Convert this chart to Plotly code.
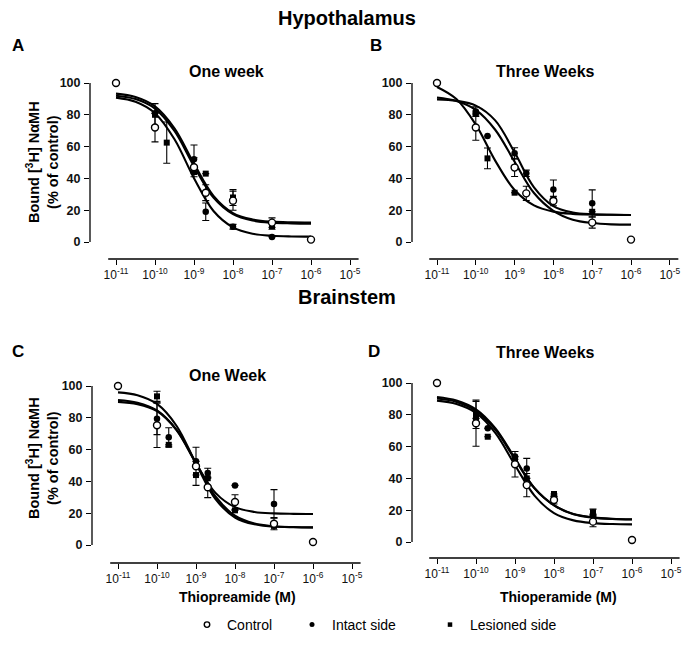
import plotly.graph_objects as go

# ---------------- data ----------------
conc = [1e-11, 1e-10, 2e-10, 1e-9, 2e-9, 1e-8, 1e-7, 1e-6]
fit_conc = [1e-11, 3.16e-11, 1e-10, 3.16e-10, 1e-9, 3.16e-9, 1e-8, 3.16e-8, 1e-7, 3.16e-7, 1e-6]

x_tickvals = [1e-11, 1e-10, 1e-9, 1e-8, 1e-7, 1e-6, 1e-5]
x_ticktext = ["10<sup>-11</sup>", "10<sup>-10</sup>", "10<sup>-9</sup>", "10<sup>-8</sup>",
              "10<sup>-7</sup>", "10<sup>-6</sup>", "10<sup>-5</sup>"]
y_tickvals = [0, 20, 40, 60, 80, 100]

# Panel A  (Hypothalamus, one week)
a_control = [100, 72, None, 47, 31, 26, 12.2, 1.5]
a_intact = [None, 81, None, 52, 19, 9.6, 3.2, None]
a_lesioned = [None, 80, 62.5, 44, 43, 28, 10, None]
a_control_err = [None, 9, None, 6, 5, 6, 3, None]
a_intact_err = [None, None, None, 9, 5.5, 1.5, None, None]
a_lesioned_err = [None, 7, 13, None, None, 5, 2, None]
a_control_fit = [92.0, 89.9, 83.9, 69.8, 47.6, 27.9, 17.5, 13.5, 12.1, 11.7, 11.55]
a_intact_fit = [90.8, 88.2, 81.0, 64.6, 40.1, 19.5, 9.2, 5.2, 3.9, 3.5, 3.4]
a_lesioned_fit = [93.3, 91.2, 85.3, 71.5, 49.3, 29.0, 18.2, 14.2, 12.8, 12.4, 12.3]

# Panel B  (Hypothalamus, three weeks)
b_control = [100, 72, None, 46.8, 30.6, 25.8, 12.2, 1.5]
b_intact = [None, 82, 66.7, 55.8, 43.2, 33, 24.3, None]
b_lesioned = [None, 81, 52.6, 31, None, 27, 19, None]
b_control_err = [None, 8, None, 5.6, 4.5, 3, 3.5, None]
b_intact_err = [None, 3, None, 3.5, 2, 6, 8.5, None]
b_lesioned_err = [None, None, 6.5, None, None, None, None, None]
b_control_fit = [90.9, 88.7, 83.1, 70.6, 50.5, 30.8, 19.6, 14.0, 11.9, 11.1, 10.9]
b_intact_fit = [89.7, 88.8, 85.8, 76.5, 56.4, 34.4, 22.6, 18.6, 17.4, 17.1, 17.0]
b_lesioned_fit = [97.5, 89.9, 73.8, 51.2, 32.7, 23.0, 19.1, 17.7, 17.3, 17.1, 17.0]

# Panel C  (Brainstem, one week)
c_control = [100, 75.3, None, 49.5, 36.3, 27, 13.4, 1.9]
c_intact = [None, 79.4, 67.7, 52.6, 45.3, 37.5, 25.8, None]
c_lesioned = [None, 93.5, 63, 44, 42, 21.8, 12, None]
c_control_err = [None, 14, None, 12, 6.5, 4.6, 3.8, None]
c_intact_err = [None, 10, 6, None, 3, None, 9, None]
c_lesioned_err = [None, 3.2, None, None, None, None, None, None]
c_control_fit = [91.2, 89.5, 84.6, 72.5, 51.5, 30.5, 18.4, 13.5, 11.8, 11.3, 11.1]
c_intact_fit = [90.0, 88.6, 84.2, 72.3, 51.4, 32.8, 23.8, 20.8, 19.9, 19.6, 19.5]
c_lesioned_fit = [96.0, 94.2, 88.7, 75.0, 51.2, 28.9, 17.3, 13.0, 11.6, 11.2, 11.05]

# Panel D  (Brainstem, three weeks)
d_control = [100, 74.7, None, 48.9, 35.8, 26.4, 12.8, 1.3]
d_intact = [None, 77.7, 71.5, 53.7, 46.3, 28.5, 17.5, None]
d_lesioned = [None, 79.9, 66.2, 52, 40, 30.2, 18.7, None]
d_control_err = [None, 14.5, None, 8, 7.3, 2.5, 3.2, None]
d_intact_err = [None, None, None, None, 6.3, None, None, None]
d_lesioned_err = [None, 8.5, None, None, None, None, 2, None]
d_control_fit = [88.9, 86.8, 81.2, 68.5, 48.3, 29.2, 18.2, 13.6, 11.9, 11.3, 11.1]
d_intact_fit = [90.2, 88.1, 82.5, 70.6, 52.0, 33.7, 23.0, 17.4, 15.3, 14.45, 14.15]
d_lesioned_fit = [91.2, 89.0, 83.4, 71.4, 52.6, 34.0, 23.2, 17.6, 15.5, 14.6, 14.3]

group_names = ["Control", "Intact side", "Lesioned side"]

# ---------------- layout helpers ----------------
# the page body adds an 8px margin, so the figure is drawn 8px smaller and
# every target pixel position (measured on the 694x645 reference) is shifted by 8
OFF = 8
W, H = 694 - OFF, 645 - OFF
def px(x):
    return (x - OFF) / W
def py(y):
    return 1 - (y - OFF) / H

FONT = "Liberation Sans, Arial, Helvetica, sans-serif"

marker_styles = {
    "Control": dict(symbol="circle", size=7, color="white", line=dict(color="black", width=1.4)),
    "Intact side": dict(symbol="circle", size=6.5, color="black", line=dict(color="black", width=0)),
    "Lesioned side": dict(symbol="square", size=6, color="black", line=dict(color="black", width=0)),
}

panels = [
    dict(s="", data=[a_control, a_intact, a_lesioned], err=[a_control_err, a_intact_err, a_lesioned_err],
         fit=[a_control_fit, a_intact_fit, a_lesioned_fit],
         yax=90, x11=116, dec=39.0, y0=242, y100=83, xline=259),
    dict(s="2", data=[b_control, b_intact, b_lesioned], err=[b_control_err, b_intact_err, b_lesioned_err],
         fit=[b_control_fit, b_intact_fit, b_lesioned_fit],
         yax=412, x11=437, dec=38.8, y0=242, y100=83, xline=259),
    dict(s="3", data=[c_control, c_intact, c_lesioned], err=[c_control_err, c_intact_err, c_lesioned_err],
         fit=[c_control_fit, c_intact_fit, c_lesioned_fit],
         yax=92, x11=118, dec=39.0, y0=545, y100=386, xline=563),
    dict(s="4", data=[d_control, d_intact, d_lesioned], err=[d_control_err, d_intact_err, d_lesioned_err],
         fit=[d_control_fit, d_intact_fit, d_lesioned_fit],
         yax=412, x11=437, dec=39.0, y0=542, y100=383, xline=558),
]

fig = go.Figure()
layout = dict(width=W, height=H, margin=dict(l=0, r=0, t=0, b=0),
              paper_bgcolor="white", plot_bgcolor="white",
              font=dict(family=FONT, color="black"))
shapes = []

for p in panels:
    s = p["s"]
    xa, ya = "x" + s, "y" + s
    for fit in p["fit"]:
        fig.add_trace(go.Scatter(x=fit_conc, y=fit, mode="lines", xaxis=xa, yaxis=ya,
                                 line=dict(color="black", width=2.1, shape="spline", smoothing=1.0),
                                 hoverinfo="skip", showlegend=False))
    for idx in [2, 1, 0]:
        name = group_names[idx]
        fig.add_trace(go.Scatter(x=conc, y=p["data"][idx], mode="markers", xaxis=xa, yaxis=ya,
                                 name=name, marker=marker_styles[name],
                                 error_y=dict(type="data", array=p["err"][idx], visible=True,
                                              color="black", thickness=1.1, width=3.5),
                                 cliponaxis=False, showlegend=False))
    ppd = (p["y0"] - p["y100"]) / 100.0
    lo = -11 - (p["x11"] - p["yax"]) / p["dec"]
    hi = -4.75
    right_px = p["x11"] + (hi + 11) * p["dec"]
    top_px = p["y100"] - 8
    ymin = -(p["xline"] - p["y0"]) / ppd
    ymax = 100 + (p["y100"] - top_px) / ppd
    layout["xaxis" + s] = dict(type="log", range=[lo, hi], domain=[px(p["yax"]), px(right_px)],
                               anchor=ya, tickvals=x_tickvals, ticktext=x_ticktext,
                               ticks="outside", ticklen=5, tickwidth=1.2, tickcolor="black",
                               showgrid=False, zeroline=False, showline=False,
                               tickfont=dict(size=12, family=FONT, color="#111"))
    layout["yaxis" + s] = dict(range=[ymin, ymax], domain=[py(p["xline"]), py(top_px)],
                               anchor=xa, tickvals=y_tickvals, ticks="outside", ticklen=5,
                               tickwidth=1.2, tickcolor="black", showgrid=False, zeroline=False,
                               showline=False, ticklabelstandoff=1,
                               tickfont=dict(size=12.5, family=FONT, color="#111", weight="bold"))
    shapes.append(dict(type="line", xref=xa + " domain", x0=0, x1=0, yref=ya, y0=0, y1=100,
                       line=dict(color="black", width=1.3)))
    fx0 = (-11.2 - lo) / (hi - lo)
    fx1 = (-4.78 - lo) / (hi - lo)
    shapes.append(dict(type="line", xref=xa + " domain", x0=fx0, x1=fx1, yref=ya + " domain",
                       y0=0, y1=0, line=dict(color="black", width=1.3)))

# one legend per group, so each entry can sit where the reference puts it
legend_ids = ["legend", "legend2", "legend3"]
legend_left = [187, 292, 430]
for name, lid in zip(group_names, legend_ids):
    st = dict(marker_styles[name])
    st["size"] = st["size"] - 1.5
    fig.add_trace(go.Scatter(x=[None], y=[None], mode="markers", name=name, marker=st,
                             xaxis="x", yaxis="y", showlegend=True, legend=lid))

def ann(text, x, y, size, bold=True, angle=0, xanchor="center"):
    return dict(text=("<b>%s</b>" % text) if bold else text, x=px(x), y=py(y), xref="paper",
                yref="paper", showarrow=False, textangle=angle, xanchor=xanchor, yanchor="middle",
                font=dict(size=size, family=FONT, color="black"))

annotations = [
    ann("Hypothalamus", 347, 18, 20),
    ann("Brainstem", 347, 297, 20),
    ann("A", 18, 45, 17),
    ann("B", 376, 45, 17),
    ann("C", 18, 351, 17),
    ann("D", 374, 351, 17),
    ann("One week", 226, 72, 16),
    ann("Three Weeks", 545, 72, 16),
    ann("One Week", 227, 375, 16),
    ann("Three Weeks", 545, 352, 16),
    ann("Bound [<sup>3</sup>H] N\u03b1MH<br>(% of control)", 42, 162, 14.5, angle=-90),
    ann("Bound [<sup>3</sup>H] N\u03b1MH<br>(% of control)", 42, 458, 14.5, angle=-90),
    ann("Thiopreamide (M)", 237, 597, 14),
    ann("Thioperamide (M)", 558, 597, 14),
]

layout["shapes"] = shapes
layout["annotations"] = annotations
layout["showlegend"] = True
for lid, lx in zip(legend_ids, legend_left):
    layout[lid] = dict(orientation="h", x=px(lx), xanchor="left", y=py(625), yanchor="middle",
                       font=dict(size=14, family=FONT, color="black"), bgcolor="rgba(0,0,0,0)",
                       itemwidth=30)
fig.update_layout(**layout)
fig.write_html("out.html")
